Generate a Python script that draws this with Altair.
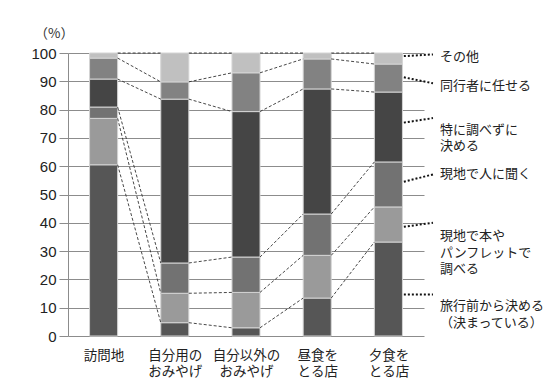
import altair as alt
import pandas as pd

# ---- data ----
categories = ["訪問地", "自分用のおみやげ", "自分以外のおみやげ", "昼食をとる店", "夕食をとる店"]
category_lines = [["訪問地"], ["自分用の", "おみやげ"], ["自分以外の", "おみやげ"], ["昼食を", "とる店"], ["夕食を", "とる店"]]
series = ["旅行前から決める（決まっている）", "現地で本やパンフレットで調べる", "現地で人に聞く",
          "特に調べずに決める", "同行者に任せる", "その他"]
series_labels = ["旅行前から決める\n（決まっている）", "現地で本や\nパンフレットで\n調べる", "現地で人に聞く",
                 "特に調べずに\n決める", "同行者に任せる", "その他"]
colors = ["#565656", "#9a9a9a", "#727272", "#454545", "#828282", "#c0c0c0"]

v_before = [60.5, 4.7, 2.9, 13.4, 33.2]
v_book = [16.4, 10.4, 12.5, 15.1, 12.4]
v_ask = [4.0, 10.7, 12.5, 14.6, 15.9]
v_nocheck = [9.9, 57.9, 51.4, 44.2, 24.7]
v_companion = [7.4, 6.1, 13.7, 10.6, 9.9]
v_other = [1.8, 10.2, 7.0, 2.1, 3.9]
values = [v_before, v_book, v_ask, v_nocheck, v_companion, v_other]

y_ticks = [0, 10, 20, 30, 40, 50, 60, 70, 80, 90, 100]

# annotation anchors (data units): leader start/end y and label centre y
leader_y1 = [14.7, 38.6, 54.5, 75.4, 91.4, 98.9]
leader_y2 = [14.7, 40.0, 57.1, 77.0, 89.3, 99.5]
label_y = [10.6, 35.3, 57.2, 72.8, 88.3, 98.6]

HW = 0.197  # half bar width in category units

# ---- tables ----
rows = []
cum = [[0.0] for _ in categories]
for s_i, s in enumerate(series):
    for c_i, c in enumerate(categories):
        lo = cum[c_i][-1]
        hi = lo + values[s_i][c_i]
        cum[c_i].append(hi)
        rows.append({"cat": c, "idx": c_i, "series": s, "x": c_i - HW, "x2": c_i + HW, "y": lo, "y2": hi})
bars_df = pd.DataFrame(rows)

conn = []
for k in range(1, len(series) + 1):
    for c_i in range(len(categories) - 1):
        conn.append({"k": k, "x": c_i + HW, "x2": c_i + 1 - HW,
                     "y": min(cum[c_i][k], 100), "y2": min(cum[c_i + 1][k], 100)})
conn_df = pd.DataFrame(conn)

ann_df = pd.DataFrame({"label": series_labels, "y1": leader_y1, "y2": leader_y2, "ly": label_y,
                       "x1": [4 + HW + 0.02] * 6, "x2": [4.626] * 6, "lx": [4.725] * 6})

xscale = alt.Scale(domain=[-0.5, 4.5], nice=False, zero=False)
yscale = alt.Scale(domain=[0, 100], nice=False)

label_expr = "[" + ",".join("[" + ",".join("'" + t + "'" for t in lines) + "]" for lines in category_lines) + "][datum.value]"

x_axis = alt.Axis(values=list(range(len(categories))), labelExpr=label_expr, grid=False, ticks=False,
                  domain=False, title=None, labelFont="Noto Sans CJK JP", labelFontSize=13.5,
                  labelColor="#222222", labelLineHeight=16.5, labelBaseline="top", labelPadding=12,
                  labelAngle=0, labelOverlap=False)
y_axis = alt.Axis(values=y_ticks, grid=True, gridColor="#8c8c8c", gridWidth=1, tickColor="#8c8c8c",
                  tickSize=9, domainColor="#8c8c8c", labelFont="Liberation Sans", labelFontSize=15,
                  labelColor="#222222", labelPadding=3, labelOverlap=False, title="（%）", titleAngle=0,
                  titleAlign="left", titleBaseline="middle", titleX=-34, titleY=-20,
                  titleFont="Noto Sans CJK JP", titleFontSize=13.5, titleFontWeight="normal",
                  titleColor="#333333")

bars = alt.Chart(bars_df).mark_bar(stroke="#d4d4d4", strokeWidth=1).encode(
    x=alt.X("x:Q", scale=xscale, axis=x_axis),
    x2="x2:Q",
    y=alt.Y("y:Q", scale=yscale, axis=y_axis),
    y2="y2:Q",
    color=alt.Color("series:N", scale=alt.Scale(domain=series, range=colors), legend=None),
)

connectors = alt.Chart(conn_df).mark_rule(strokeDash=[3, 2], strokeWidth=0.9, color="#333333").encode(
    x=alt.X("x:Q", scale=xscale, axis=x_axis), x2="x2:Q",
    y=alt.Y("y:Q", scale=yscale, axis=y_axis), y2="y2:Q",
)

leaders = alt.Chart(ann_df).mark_rule(strokeDash=[2, 2], strokeWidth=2, color="#111111").encode(
    x=alt.X("x1:Q", scale=xscale, axis=x_axis), x2="x2:Q",
    y=alt.Y("y1:Q", scale=yscale, axis=y_axis), y2="y2:Q",
)

labels = alt.Chart(ann_df).mark_text(align="left", baseline="middle", lineBreak="\n", lineHeight=16.5,
                                     font="Noto Sans CJK JP", fontSize=13, color="#222222").encode(
    x=alt.X("lx:Q", scale=xscale, axis=x_axis), y=alt.Y("ly:Q", scale=yscale, axis=y_axis), text="label:N",
)

chart = alt.layer(bars, connectors, leaders, labels).properties(
    width=356, height=283,
    autosize=alt.AutoSizeParams(type="none"),
    padding={"left": 60, "top": 45, "right": 122, "bottom": 48},
).configure_view(stroke=None)

chart.save("out.html", embed_options={"renderer": "svg", "actions": False})
